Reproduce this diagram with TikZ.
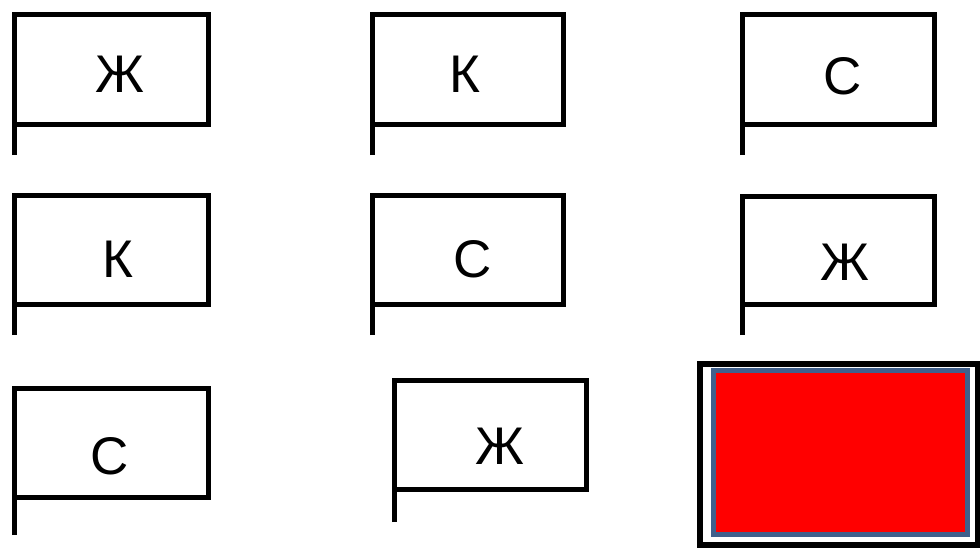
\documentclass[tikz,border=0pt]{standalone}
\usepackage{fontspec}
\setmainfont{Liberation Sans}
\definecolor{frameblue}{RGB}{64,96,140}
\definecolor{flagred}{RGB}{255,0,0}
\begin{document}
\begin{tikzpicture}[x=1pt,y=-1pt,
  flagline/.style={line width=5pt,line join=miter,black},
  letter/.style={font=\fontsize{53}{60}\selectfont,inner sep=0pt,anchor=center}]
\useasboundingbox (0,0) rectangle (980,550);
\fill[white] (0,0) rectangle (980,550);
% flag: left, top, right, bottom, pole bottom
\newcommand{\flagdraw}[5]{\draw[flagline] (#1,#5) -- (#1,#2) -- (#3,#2) -- (#3,#4) -- (#1,#4);}
% row 1
\flagdraw{14}{14}{208}{124}{155}
\flagdraw{372}{14}{563}{124}{155}
\flagdraw{742}{14}{934}{124}{155}
\node[letter] (l1) at (120,74) {Ж};
\node[letter] (l2) at (465,74) {К};
\node[letter] (l3) at (843,76) {С};
% row 2
\flagdraw{14}{195}{208}{304}{335}
\flagdraw{372}{195}{563}{304}{335}
\flagdraw{742}{196}{934}{304}{335}
\node[letter] (l4) at (118,259) {К};
\node[letter] (l5) at (473,259) {С};
\node[letter] (l6) at (845,262) {Ж};
% row 3
\flagdraw{14}{388}{208}{497}{535}
\flagdraw{394}{380}{586}{489}{522}
\node[letter] (l7) at (110,456) {С};
\node[letter] (l8) at (500,446) {Ж};
% red box
\draw[line width=5.5pt,black] (700,364) rectangle (978,545);
\draw[line width=5pt,frameblue,fill=flagred] (713.5,370.5) rectangle (967.5,534.5);
\end{tikzpicture}
\end{document}
